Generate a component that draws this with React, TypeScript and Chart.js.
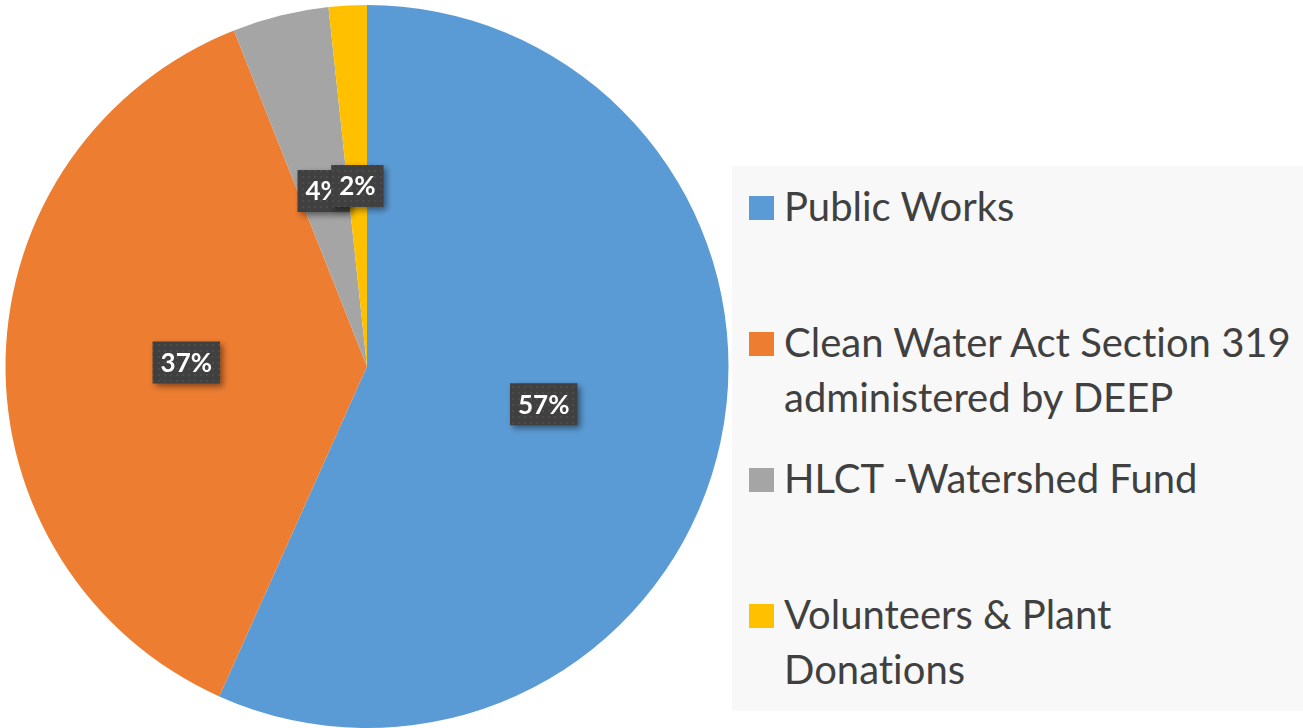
import React, { useEffect, useRef } from "react";
import { Chart, registerables } from "chart.js";

Chart.register(...registerables);

const categories = [
  "Public Works",
  "Clean Water Act Section 319 administered by DEEP",
  "HLCT -Watershed Fund",
  "Volunteers & Plant Donations",
];
const legendLines = [
  ["Public Works"],
  ["Clean Water Act Section 319", "administered by DEEP"],
  ["HLCT -Watershed Fund"],
  ["Volunteers & Plant", "Donations"],
];
const shares = [56.7, 37.3, 4.3, 1.7];
const colors = ["#5B9BD5", "#ED7D31", "#A5A5A5", "#FFC000"];

const W = 1303;
const H = 728;

function makePattern(ctx: CanvasRenderingContext2D) {
  const c = document.createElement("canvas");
  c.width = 6;
  c.height = 6;
  const p = c.getContext("2d")!;
  p.fillStyle = "#404040";
  p.fillRect(0, 0, 6, 6);
  p.fillStyle = "#4c4c4c";
  p.fillRect(2, 2, 2, 2);
  return ctx.createPattern(c, "repeat");
}

const labelPlugin = {
  id: "boxLabels",
  afterDatasetsDraw(chart: any) {
    const ctx: CanvasRenderingContext2D = chart.ctx;
    const meta = chart.getDatasetMeta(0);
    const data = chart.data.datasets[0].data as number[];
    const total = data.reduce((a, b) => a + b, 0);
    const pattern = makePattern(ctx);
    ctx.save();
    ctx.font = "bold 26px Lato";
    ctx.textAlign = "center";
    ctx.textBaseline = "middle";
    meta.data.forEach((arc: any, i: number) => {
      const pos = arc.tooltipPosition(false);
      const text = Math.round((data[i] / total) * 100) + "%";
      const tw = ctx.measureText(text).width;
      const bw = tw + 16;
      const bh = 42;
      const x = pos.x - bw / 2;
      const y = pos.y - bh / 2;
      ctx.save();
      ctx.shadowColor = "rgba(0,0,0,0.45)";
      ctx.shadowBlur = 6;
      ctx.shadowOffsetX = 3;
      ctx.shadowOffsetY = 3;
      ctx.fillStyle = pattern || "#404040";
      ctx.fillRect(x, y, bw, bh);
      ctx.restore();
      ctx.fillStyle = "#ffffff";
      ctx.fillText(text, pos.x, pos.y + 1);
    });
    ctx.restore();
  },
};

export default function App() {
  const ref = useRef<HTMLCanvasElement>(null);
  useEffect(() => {
    if (!ref.current) return;
    const chart = new Chart(ref.current, {
      type: "pie",
      data: {
        labels: categories,
        datasets: [
          {
            data: shares,
            backgroundColor: colors,
            borderWidth: 0,
          },
        ],
      },
      options: {
        animation: false,
        responsive: false,
        maintainAspectRatio: false,
        layout: { padding: { left: 5, top: 5, right: W - 5 - 724, bottom: 0 } },
        plugins: {
          legend: { display: false },
          tooltip: { enabled: false },
        },
      },
      plugins: [labelPlugin],
    });
    return () => chart.destroy();
  }, []);

  const baselines = [219, 355, 491, 627];
  const lineH = 55;
  const fontSize = 40;
  const baseOffset = 40;

  return (
    <div
      style={{
        position: "fixed",
        left: 0,
        top: 0,
        width: W,
        height: H,
        background: "#ffffff",
        overflow: "hidden",
      }}
    >
      <canvas
        ref={ref}
        width={W}
        height={H}
        style={{ position: "absolute", left: 0, top: 0, width: W, height: H }}
      />
      <div
        style={{
          position: "absolute",
          left: 732,
          top: 166,
          width: W - 732,
          height: 545,
          background: "#f8f8f8",
        }}
      />
      {legendLines.map((lines, i) => (
        <React.Fragment key={i}>
          <div
            style={{
              position: "absolute",
              left: 749,
              top: baselines[i] - 23,
              width: 25,
              height: 24,
              background: colors[i],
            }}
          />
          <div
            style={{
              position: "absolute",
              left: 784,
              top: baselines[i] - baseOffset,
              whiteSpace: "nowrap",
              fontFamily: "Lato",
              fontSize,
              fontVariantLigatures: "none",
              lineHeight: lineH + "px",
              color: "#404040",
            }}
          >
            {lines.map((l, j) => (
              <div key={j}>{l}</div>
            ))}
          </div>
        </React.Fragment>
      ))}
    </div>
  );
}
